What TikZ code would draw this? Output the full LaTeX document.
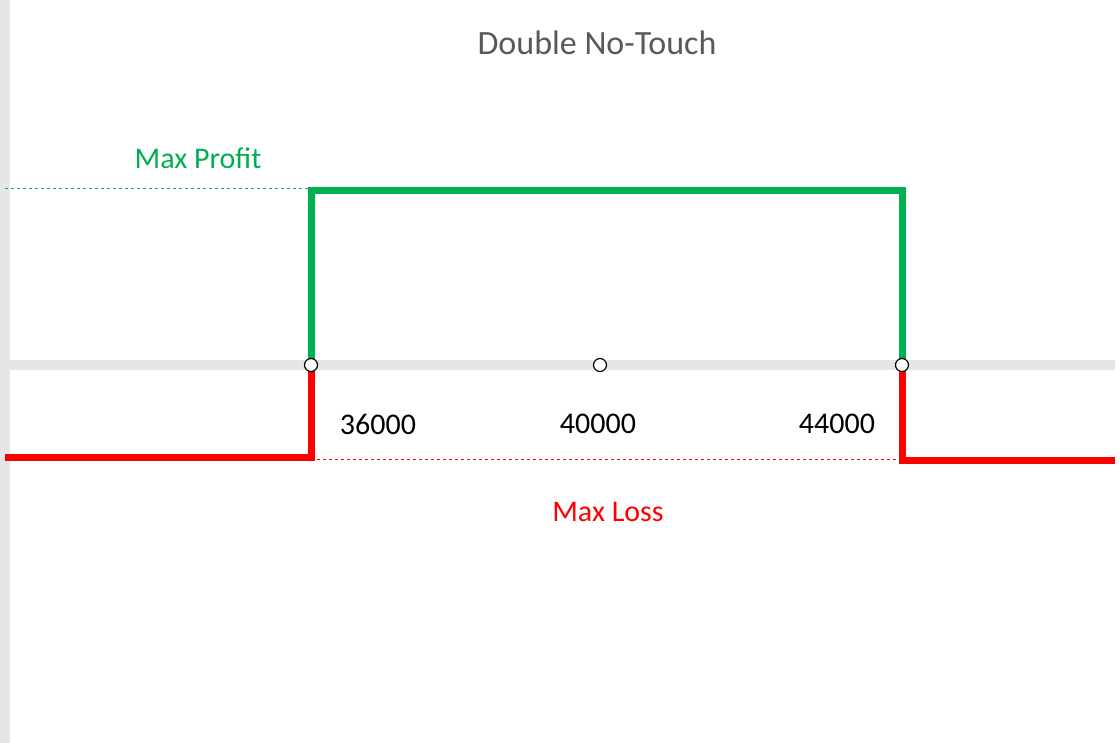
\documentclass[tikz,border=0pt]{standalone}
\usepackage{fontspec}
\setmainfont{Carlito}
\definecolor{gr}{HTML}{00B050}
\definecolor{rd}{HTML}{FF0000}
\definecolor{ax}{HTML}{E6E6E6}
\definecolor{tt}{HTML}{595959}
\begin{document}
\begin{tikzpicture}[x=1pt,y=-1pt,
  lbl/.style={font=\fontsize{30}{36}\selectfont,inner sep=0pt},
  dot/.style={circle,draw=black,fill=white,line width=1.2pt,minimum size=13pt,inner sep=0pt}]
\useasboundingbox (0,0) rectangle (1120,743);
\fill[white] (0,0) rectangle (1120,743);
\fill[ax] (0,0) rectangle (10,743);
\fill[ax] (10,360) rectangle (1115,370);
\coordinate (L0) at (5,457);
\coordinate (R0) at (1115,460);
\coordinate (GL) at (311,191);
\coordinate (GR) at (902,191);
\draw[gr,dashed,line width=1pt] (5,189) -- (311,189);
\draw[rd,dashed,line width=1pt] (311,459) -- (902,459);
\draw[gr,line width=7pt,line join=miter] (311,365) -- (GL) -- (GR) -- (902,365);
\draw[rd,line width=7pt] (L0) -- (311,457) -- (311,365);
\draw[rd,line width=7pt] (902,365) -- (902,460) -- (R0);
\node[dot] (a) at (311,365) {};
\node[dot] (b) at (600,365) {};
\node[dot] (c) at (902,365) {};
\node[lbl,text=tt,font=\fontsize{34}{40}\selectfont] (t) at (597,43) {Double No-Touch};
\node[lbl,text=gr] (mp) at (198,158) {Max Profit};
\node[lbl,text=rd] (ml) at (608,512) {Max Loss};
\node[lbl] (n1) at (378,424) {36000};
\node[lbl] (n2) at (598,424) {40000};
\node[lbl] (n3) at (837,424) {44000};
\end{tikzpicture}
\end{document}
